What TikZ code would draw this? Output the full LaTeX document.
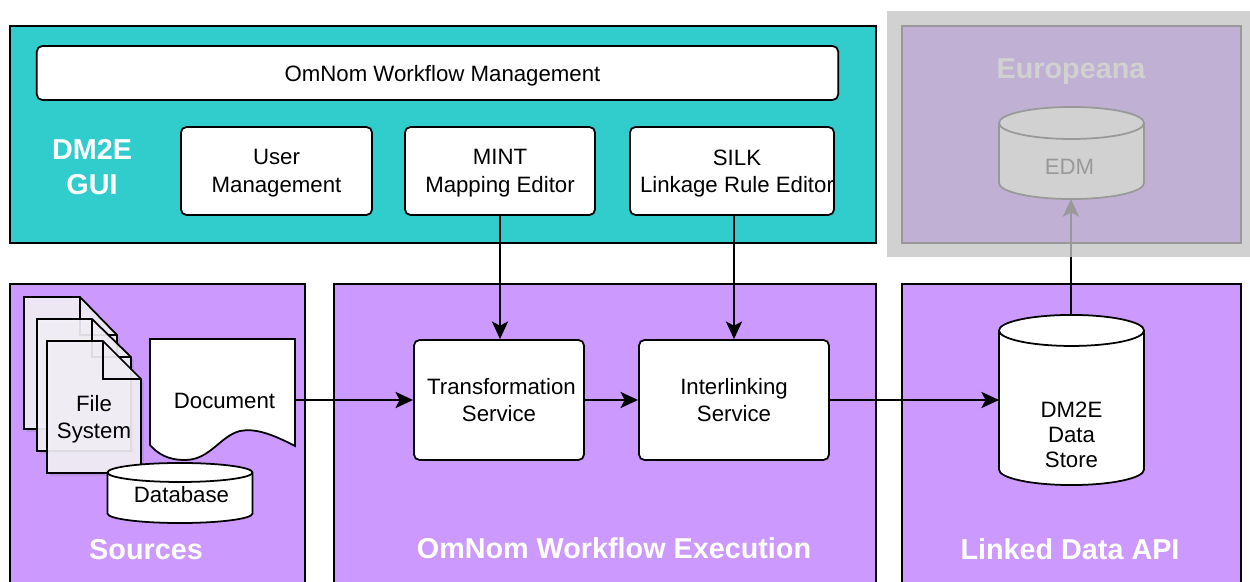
\documentclass[tikz,border=0pt]{standalone}
\usepackage{fontspec}
\setmainfont{Liberation Sans}
\usetikzlibrary{positioning,shadows,arrows.meta}
\definecolor{colorgui}{HTML}{31CCCC}
\definecolor{colorpanel}{HTML}{CC99FF}
\definecolor{colorshade}{HTML}{D1D1D1}
\definecolor{colorpale}{HTML}{C0B0D4}
\definecolor{colorfaint}{HTML}{999999}
\definecolor{colorpage}{HTML}{F3F1F7}
\tikzset{
  panel/.style={draw=black, fill=colorpanel, line width=0.5pt, inner sep=0pt},
  boxnode/.style={draw=black, fill=white, rounded corners=1.6pt, line width=0.5pt, align=center, inner sep=0pt, font=\bodyfont},
  cylframe/.style={inner sep=0pt, outer sep=0pt, minimum width=1.45cm},
  cylbody/.style={draw=black, fill=white, line width=0.5pt},
  plaintext/.style={align=center, inner sep=0pt, font=\bodyfont},
  pagesheet/.style={draw=black, fill=colorpage, fill opacity=0.9, line width=0.5pt, drop shadow={shadow xshift=0.8pt, shadow yshift=-0.8pt, opacity=0.25}},
  titletext/.style={text=white, align=center, font=\titlefont},
  edgeflow/.style={black, line width=0.5pt, -{Stealth[length=5pt,width=4.6pt,inset=1.2pt]}}
}
\newcommand\bodyfont{\fontsize{6.32}{7.8}\selectfont}
\newcommand\titlefont{\fontsize{8.18}{9.9}\selectfont\bfseries}
% #1 frame node, #2 height of the end ellipse's half, #3 look
\newcommand\cyldraw[3]{
  \draw[cylbody, #3] ([yshift=-#2]#1.north west) arc[start angle=180, end angle=0, x radius=0.725cm, y radius=#2]
    -- ([yshift=#2]#1.south east) arc[start angle=0, end angle=-180, x radius=0.725cm, y radius=#2] -- cycle;
  \draw[cylbody, #3, fill=none] ([yshift=-#2]#1.north west) arc[start angle=180, end angle=360, x radius=0.725cm, y radius=#2];
}

\begin{document}
\begin{tikzpicture}[x=0.01cm, y=-0.01cm]
\useasboundingbox (0,0) rectangle (1250,582);
% top row
\node[panel, fill=colorgui, minimum width=8.66cm, minimum height=2.17cm] (gui) at (443,134.5) {};
\node[boxnode, text depth=0pt, minimum width=8.01cm, minimum height=0.54cm] (workflow) at (437.5,73) {\hspace*{0.1cm}OmNom Workflow Management};
\node[titletext] (guititle) at (92,167) {DM2E\\GUI};
\node[boxnode, text depth=0pt, minimum width=1.91cm, minimum height=0.88cm] (user) at (276.5,171) {User\\Management};
\node[boxnode, text depth=0pt, minimum width=1.90cm, minimum height=0.88cm] (mint) at (500,171) {MINT\\Mapping Editor};
\node[boxnode, text depth=0pt, minimum width=2.04cm, minimum height=0.88cm] (silk) at (732,171) {\hspace*{0.1cm}SILK\\\hspace*{0.1cm}Linkage Rule Editor};
% europeana is greyed out
\node[fill=colorshade, minimum width=3.63cm, minimum height=2.46cm, inner sep=0pt] (shade) at (1068.5,134) {};
\node[panel, draw=colorfaint, fill=colorpale, minimum width=3.39cm, minimum height=2.17cm] (europeana) at (1071.5,134.5) {};
\node[titletext, text=colorshade, text depth=0pt] (europeanatitle) at (1071,69) {Europeana};
\node[cylframe, minimum height=0.92cm] (edm) at (1071.5,153) {};
\cyldraw{edm}{0.16cm}{draw=colorfaint, fill=colorshade}
\node[plaintext, text=colorfaint] (edmtext) at (1069.5,167) {EDM};
% bottom row
\node[panel, minimum width=2.95cm, minimum height=3.02cm] (sources) at (157.5,435) {};
\node[panel, minimum width=5.42cm, minimum height=3.02cm] (execution) at (605,435) {};
\node[panel, minimum width=3.39cm, minimum height=3.02cm] (linked) at (1071.5,435) {};
\node[titletext] (sourcestitle) at (146,550) {Sources};
\node[titletext] (executiontitle) at (614,548) {OmNom Workflow Execution};
\node[titletext] (linkedtitle) at (1070,549) {Linked Data API};
% pages
\draw[pagesheet] (24,297) -- (80,297) -- (117,335) -- (117,429) -- (24,429) -- cycle;
\draw[line width=0.5pt] (80,297) -- (80,335) -- (117,335);
\draw[pagesheet] (37,319) -- (92,319) -- (131,357) -- (131,451) -- (37,451) -- cycle;
\draw[line width=0.5pt] (92,319) -- (92,357) -- (131,357);
\draw[pagesheet] (47,341) -- (103,341) -- (141,379) -- (141,473) -- (47,473) -- cycle;
\draw[line width=0.5pt] (103,341) -- (103,379) -- (141,379);
\node[plaintext] (files) at (94,419) {File\\System};
% document
\draw[draw=black, fill=white, line width=0.5pt] (150,339) -- (295,339) -- (295,446)
  .. controls (272,434) and (255,428) .. (240,431)
  .. controls (220,436) and (210,460) .. (185,460)
  .. controls (168,460) and (158,454) .. (150,445) -- cycle;
\node[inner sep=0pt, minimum width=1.45cm, minimum height=1.22cm] (document) at (222.5,400) {};
\node[plaintext] (documenttext) at (224.5,401) {Document};
\node[cylframe, minimum height=0.60cm] (database) at (180,493) {};
\cyldraw{database}{0.095cm}{}
\node[plaintext] (databasetext) at (181.5,495) {Database};
% services
\node[boxnode, minimum width=1.70cm, minimum height=1.20cm] (transform) at (499,400) {\hspace*{0.05cm}Transformation\\Service};
\node[boxnode, minimum width=1.90cm, minimum height=1.20cm] (interlink) at (734,400) {Interlinking\\Service};
\node[cylframe, minimum height=1.70cm] (store) at (1071.5,400) {};
\cyldraw{store}{0.155cm}{}
\node[plaintext, font=\fontsize{6.32}{7.2}\selectfont] (storetext) at (1071.5,435) {DM2E\\Data\\Store};
% connectors
\coordinate (shadeedge) at (1071,257);
\draw[edgeflow] (mint) -- (mint |- transform.north);
\draw[edgeflow] (interlink |- silk.south) -- (interlink);
\draw[edgeflow] (document) -- (transform);
\draw[edgeflow] (transform) -- (interlink);
\draw[edgeflow] (interlink) -- (store);
\draw[black, line width=0.5pt] (shadeedge |- store.north) -- (shadeedge);
\draw[edgeflow, colorfaint, line width=0.6pt] (shadeedge) -- (shadeedge |- edm.south);
\end{tikzpicture}
\end{document}
